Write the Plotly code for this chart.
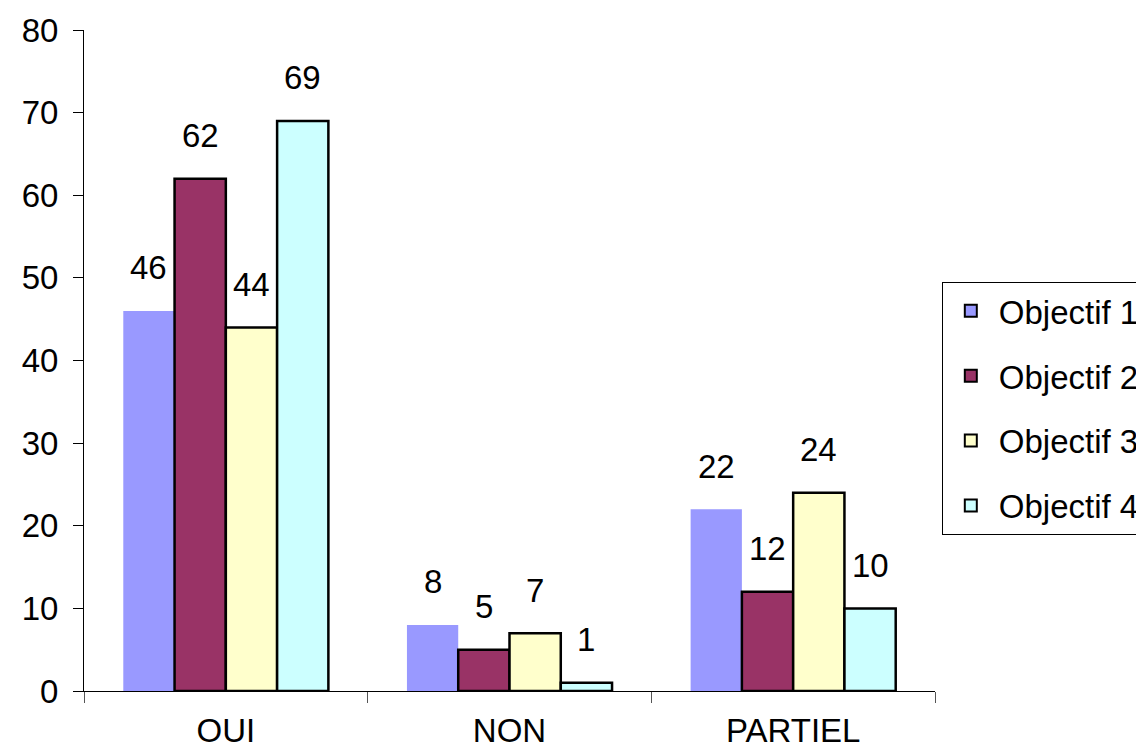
import plotly.graph_objects as go

categories = ["OUI", "NON", "PARTIEL"]
series_names = ["Objectif 1", "Objectif 2", "Objectif 3", "Objectif 4"]
obj1 = [46, 8, 22]
obj2 = [62, 5, 12]
obj3 = [44, 7, 24]
obj4 = [69, 1, 10]
y_ticks = [0, 10, 20, 30, 40, 50, 60, 70, 80]

values = [obj1, obj2, obj3, obj4]
colors = ["#9999FF", "#993366", "#FFFFCC", "#CCFFFF"]
line_widths = [0, 2.5, 2.5, 2.5]

FONT = "Liberation Sans, Arial, sans-serif"
FS = 33

# page body has an 8px margin; compensate so the plot area lands where the reference has it
L, R, T, B = 76, 217, 22, 73
W, H = 1144, 756
plot_w = W - L - R
bargap = 0.277
cat_px = plot_w / len(categories)
bar_px = cat_px * (1 - bargap) / len(series_names)

fig = go.Figure()
for i, (name, vals) in enumerate(zip(series_names, values)):
    fig.add_trace(go.Bar(
        x=categories, y=vals, name=name, showlegend=False,
        marker=dict(color=colors[i], line=dict(color="black", width=line_widths[i])),
    ))
    # legend-only proxies on an overlaid hidden axis so grouping is unaffected
    fig.add_trace(go.Bar(
        x=[categories[0]], y=[None], name=name, showlegend=True,
        legendgroup=name, xaxis="x2",
        marker=dict(color=colors[i], line=dict(color="black", width=2)),
    ))
    for c, v in zip(categories, vals):
        fig.add_annotation(
            x=c, y=v, text=str(v), showarrow=False,
            xshift=(i - 1.5) * bar_px, yshift=43, yanchor="middle",
            font=dict(family=FONT, size=FS, color="black"),
        )

fig.update_layout(
    width=W, height=H,
    margin=dict(l=L, r=R, t=T, b=B, autoexpand=False),
    paper_bgcolor="white", plot_bgcolor="white",
    barmode="group", bargap=bargap, bargroupgap=0,
    font=dict(family=FONT, size=FS, color="black"),
    showlegend=True,
    legend=dict(
        x=1.008, y=0.619, xanchor="left", yanchor="top",
        bordercolor="black", borderwidth=1, bgcolor="white",
        font=dict(family=FONT, size=FS, color="black"),
        tracegroupgap=19, itemclick=False, itemwidth=46,
    ),
    xaxis=dict(
        showline=True, linecolor="black", linewidth=1,
        ticks="outside", ticklen=11, tickcolor="#555", tickson="boundaries",
        showgrid=False, zeroline=False,
        tickfont=dict(family=FONT, size=FS, color="black"),
        ticklabelstandoff=10,
    ),
    xaxis2=dict(overlaying="x", visible=False, matches=None),
    yaxis=dict(
        range=[0, 80], tickvals=y_ticks,
        showline=True, linecolor="black", linewidth=1,
        ticks="outside", ticklen=10, tickcolor="black",
        showgrid=False, zeroline=False,
        tickfont=dict(family=FONT, size=FS, color="black"),
        ticklabelstandoff=8,
    ),
)

fig.write_html("out.html")
